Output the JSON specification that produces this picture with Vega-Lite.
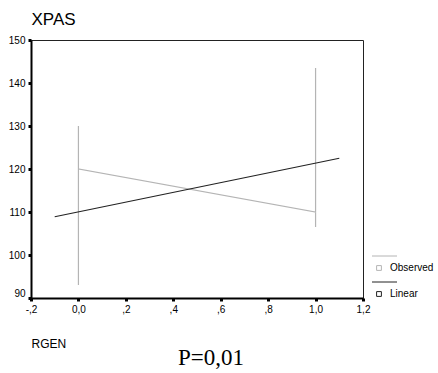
{
  "$schema": "https://vega.github.io/schema/vega-lite/v6.json",
  "autosize": "none",
  "width": 332,
  "height": 258,
  "padding": {"left": 31, "top": 40, "right": 75, "bottom": 75},
  "background": "white",
  "title": {
    "text": "P=0,01",
    "orient": "bottom",
    "anchor": "middle",
    "font": "Liberation Serif",
    "fontSize": 23,
    "fontWeight": "normal",
    "color": "black",
    "dx": 14,
    "offset": -2
  },
  "config": {
    "view": {"stroke": "#222222", "strokeWidth": 1},
    "font": "Liberation Sans"
  },
  "data": {
    "values": [
      {"x": 0, "y": 130, "series": "Observed", "ord": 1},
      {"x": 0, "y": 93, "series": "Observed", "ord": 2},
      {"x": 0, "y": 120, "series": "Observed", "ord": 3},
      {"x": 1, "y": 110, "series": "Observed", "ord": 4},
      {"x": 1, "y": 143.5, "series": "Observed", "ord": 5},
      {"x": 1, "y": 106.5, "series": "Observed", "ord": 6},
      {"x": 1, "y": 140, "series": "Observed", "ord": 7},
      {"x": -0.1, "y": 108.9, "series": "Linear", "ord": 1},
      {"x": 1.1, "y": 122.5, "series": "Linear", "ord": 2}
    ]
  },
  "mark": {"type": "line", "strokeWidth": 1.2, "clip": true},
  "encoding": {
    "x": {
      "field": "x",
      "type": "quantitative",
      "scale": {"domain": [-0.2, 1.2], "nice": false, "zero": false},
      "axis": {
        "title": "RGEN",
        "values": [-0.2, 0, 0.2, 0.4, 0.6, 0.8, 1.0, 1.2],
        "labelExpr": "datum.value == 0 ? '0,0' : (abs(datum.value) < 0.999 ? ((datum.value < 0 ? '-,' : ',') + round(abs(datum.value) * 10)) : replace(format(datum.value, '.1f'), '.', ','))",
        "grid": false,
        "domainColor": "black",
        "domainWidth": 2,
        "tickColor": "black",
        "tickSize": 3,
        "tickWidth": 3,
        "labelFont": "Liberation Sans",
        "labelFontSize": 10,
        "labelColor": "black",
        "labelPadding": 3,
        "labelFlush": false,
        "labelOverlap": false,
        "titleFont": "Liberation Sans",
        "titleFontSize": 12,
        "titleFontWeight": "normal",
        "titleColor": "black",
        "titleAnchor": "start",
        "titleAlign": "left",
        "titleBaseline": "alphabetic",
        "titleX": 0,
        "titleY": 49
      }
    },
    "y": {
      "field": "y",
      "type": "quantitative",
      "scale": {"domain": [90, 150], "nice": false, "zero": false},
      "axis": {
        "title": "XPAS",
        "values": [90, 100, 110, 120, 130, 140, 150],
        "grid": false,
        "domainColor": "black",
        "domainWidth": 2,
        "tickColor": "black",
        "tickSize": 3,
        "tickWidth": 3,
        "labelFont": "Liberation Sans",
        "labelFontSize": 10,
        "labelColor": "black",
        "labelPadding": 3,
        "labelFlush": false,
        "labelOverlap": false,
        "labelBaseline": {"condition": {"test": "datum.value == 90", "value": "bottom"}, "value": "middle"},
        "titleFont": "Liberation Sans",
        "titleFontSize": 17,
        "titleFontWeight": "normal",
        "titleColor": "black",
        "titleAngle": 0,
        "titleAlign": "left",
        "titleBaseline": "alphabetic",
        "titleX": 0,
        "titleY": -16
      }
    },
    "color": {
      "field": "series",
      "type": "nominal",
      "scale": {"domain": ["Observed", "Linear"], "range": ["#b4b4b4", "#222222"]},
      "legend": {
        "title": null,
        "orient": "none",
        "legendX": 343,
        "legendY": 223,
        "padding": 0,
        "symbolType": "M-3.5,-6H9M-1.2,-1.2H1.2V1.2H-1.2Z",
        "symbolSize": 16,
        "symbolStrokeWidth": 1,
        "symbolFillColor": "transparent",
        "labelFont": "Liberation Sans",
        "labelFontSize": 10,
        "labelColor": "black",
        "labelOffset": 6,
        "rowPadding": 7
      }
    },
    "order": {"field": "ord", "type": "quantitative"}
  }
}
